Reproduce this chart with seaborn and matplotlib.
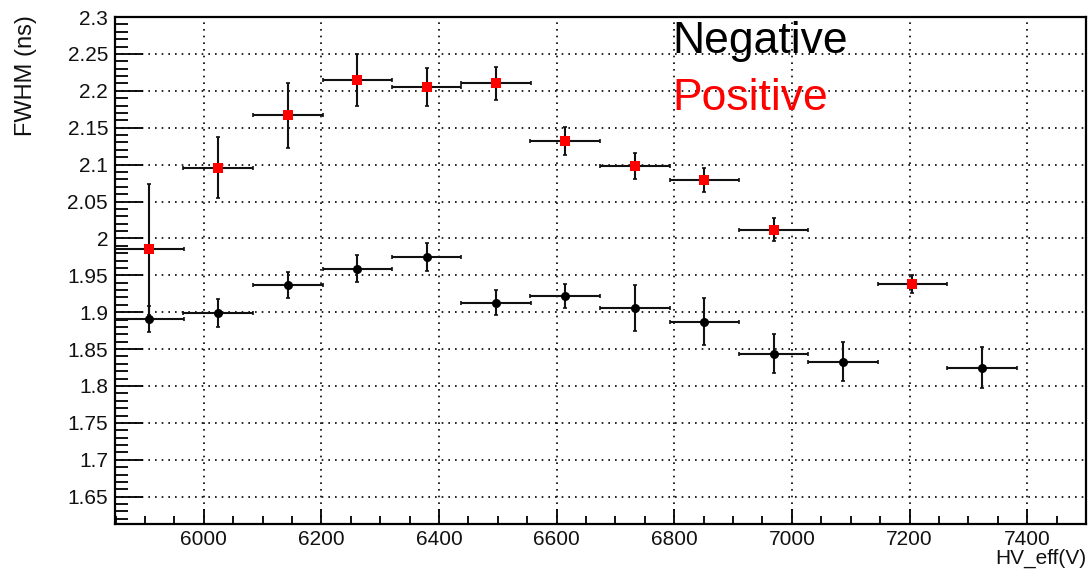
import numpy as np
import pandas as pd
import matplotlib
matplotlib.use("Agg")
import matplotlib.pyplot as plt
from matplotlib.ticker import MultipleLocator, FormatStrFormatter
import seaborn as sns

# HV_eff (V) bin centres and FWHM (ns) values
neg_hv = [5907, 6024, 6143, 6261, 6379, 6497, 6614, 6733, 6851, 6969, 7087, 7323]
neg_fwhm = [1.891, 1.899, 1.937, 1.959, 1.975, 1.913, 1.922, 1.906, 1.887, 1.844, 1.833, 1.825]
neg_err = [0.018, 0.019, 0.018, 0.018, 0.019, 0.017, 0.016, 0.031, 0.032, 0.026, 0.026, 0.028]

pos_hv = [5907, 6024, 6143, 6261, 6379, 6497, 6614, 6733, 6851, 6969, 7205]
pos_fwhm = [1.985, 2.096, 2.167, 2.215, 2.205, 2.210, 2.132, 2.098, 2.079, 2.012, 1.938]
pos_err = [0.089, 0.041, 0.044, 0.035, 0.026, 0.022, 0.019, 0.018, 0.016, 0.016, 0.012]

hv_halfwidth = 59

sns.set_style("white")
plt.rcParams['font.family'] = ['Liberation Sans', 'DejaVu Sans']

neg = pd.DataFrame({'HV': neg_hv, 'FWHM': neg_fwhm, 'err': neg_err})
pos = pd.DataFrame({'HV': pos_hv, 'FWHM': pos_fwhm, 'err': pos_err})

fig = plt.figure(figsize=(10.89, 5.69), dpi=100)
ax = fig.add_axes([0.1056, 0.0791, 0.8916, 0.891])

for df in (neg, pos):
    ax.errorbar(df['HV'], df['FWHM'], xerr=hv_halfwidth, yerr=df['err'], fmt='none',
                ecolor='#111111', elinewidth=1.5, capsize=1.5, capthick=1.2, zorder=3)

sns.scatterplot(data=neg, x='HV', y='FWHM', ax=ax, marker='o', s=42, color='black',
                edgecolor='black', linewidth=0, zorder=4)
sns.scatterplot(data=pos, x='HV', y='FWHM', ax=ax, marker='s', s=50, color='red',
                edgecolor='red', linewidth=0, zorder=4)

ax.set_xlim(5849, 7500)
ax.set_ylim(1.613, 2.3)

ax.xaxis.set_major_locator(MultipleLocator(200))
ax.xaxis.set_minor_locator(MultipleLocator(50))
ax.yaxis.set_major_locator(MultipleLocator(0.05))
ax.yaxis.set_minor_locator(MultipleLocator(0.01))
ax.yaxis.set_major_formatter(FormatStrFormatter('%g'))

ax.tick_params(axis='both', which='both', direction='in', top=False, right=False,
               left=True, bottom=True, width=1.3, color='black',
               labelsize=15, labelcolor='#111111')
ax.tick_params(axis='y', which='major', length=20, pad=5)
ax.tick_params(axis='y', which='minor', length=9.5)
ax.tick_params(axis='x', which='major', length=11, pad=4)
ax.tick_params(axis='x', which='minor', length=5.5)

ax.grid(True, which='major', color='black', linestyle=(0, (1, 3)), linewidth=1.2)
for s in ax.spines.values():
    s.set_color('black')
    s.set_linewidth(1.6)

ax.set_xlabel('HV_eff(V)', loc='right', fontsize=15, labelpad=0, color='#111111')
ax.set_ylabel('FWHM (ns)', loc='top', fontsize=17, color='#111111')
ax.yaxis.set_label_coords(-0.08, 1.003)

ax.text(6797, 2.251, 'Negative', color='black', fontsize=32, zorder=5)
ax.text(6797, 2.174, 'Positive', color='red', fontsize=32, zorder=5)

fig.savefig('out.png', dpi=100)
